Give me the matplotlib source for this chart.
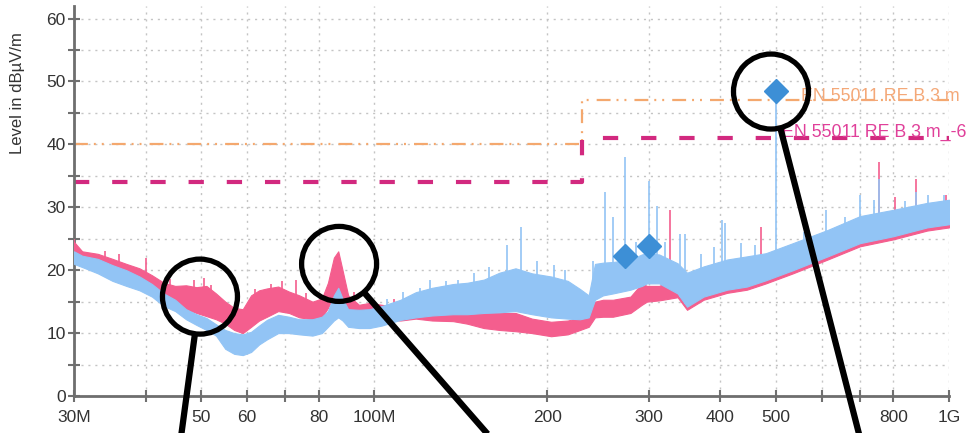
import numpy as np
import matplotlib as mpl
mpl.use('Agg')
import matplotlib.pyplot as plt
from matplotlib.patches import Circle

plt.rcParams['font.family'] = ['Liberation Sans', 'DejaVu Sans']
plt.rcParams['lines.scale_dashes'] = False

# envelope readings of the two noisy traces (MHz, dBuV/m)
freq = [30, 31, 33, 35, 37, 39, 41, 43, 45, 47, 49, 51, 53, 55, 57, 59, 61, 63, 65, 68,
        71, 74, 78, 81, 83, 85, 86.5, 88, 90, 94, 98, 103, 111, 118, 126, 137, 145, 155,
        165, 176, 188, 203, 217, 228, 236, 242, 250, 260, 279, 292, 298, 313, 337, 350,
        374, 411, 445, 480, 535, 615, 700, 800, 916, 1000]
red_hi = [24.5, 23.0, 22.6, 21.8, 21.0, 20.3, 19.2, 18.0, 17.5, 17.6, 17.3, 17.5, 16.3, 15.0,
          14.0, 13.8, 16.0, 16.8, 17.1, 17.4, 16.6, 16.0, 15.0, 15.5, 18.0, 22.0, 23.0, 20.0,
          16.0, 14.5, 14.8, 14.5, 14.0, 14.3, 14.5, 14.8, 14.2, 13.2, 13.2, 13.2, 12.3, 11.8,
          12.0, 12.5, 13.0, 15.0, 15.3, 15.3, 15.8, 17.9, 17.5, 17.5, 19.0, 18.0, 19.0, 20.0,
          20.5, 21.0, 22.5, 24.5, 26.8, 28.0, 29.0, 29.5]
red_lo = [21.5, 21.0, 20.5, 19.5, 18.5, 17.5, 16.5, 15.0, 14.0, 13.8, 13.2, 12.7, 12.2, 11.5,
          10.5, 10.0, 11.0, 12.0, 12.6, 13.5, 13.2, 12.5, 12.2, 12.5, 14.0, 16.0, 17.0, 15.0,
          12.8, 12.3, 12.2, 12.2, 12.0, 12.3, 12.0, 11.9, 11.5, 10.8, 10.5, 10.3, 10.0, 9.5,
          9.8, 10.5, 11.0, 12.5, 12.6, 12.6, 13.2, 14.5, 15.0, 15.2, 15.7, 13.7, 15.3, 16.4,
          16.9, 17.9, 19.5, 21.7, 23.8, 24.9, 26.3, 26.8]
blue_hi = [23.0, 22.3, 21.8, 20.8, 20.0, 19.0, 17.8, 16.3, 15.3, 13.8, 13.0, 12.4, 11.4, 10.5,
           10.0, 9.8, 10.2, 11.2, 12.1, 12.9, 12.6, 12.2, 12.2, 12.6, 13.5, 16.0, 17.2, 15.5,
           13.8, 13.7, 13.8, 14.3, 15.3, 16.5, 17.2, 17.8, 18.0, 18.5, 19.6, 20.3, 19.5, 19.0,
           18.3, 17.0, 16.0, 21.0, 21.2, 21.3, 21.7, 22.5, 22.7, 22.5, 21.1, 19.6, 20.6, 21.7,
           22.2, 22.7, 24.3, 26.4, 28.6, 29.6, 30.7, 31.2]
blue_lo = [21.0, 20.5, 19.5, 18.3, 17.5, 16.8, 15.8, 14.3, 13.5, 12.2, 11.3, 10.5, 9.6, 7.5,
           6.7, 6.5, 7.0, 8.2, 9.0, 10.0, 10.0, 9.8, 9.6, 10.0, 11.0, 12.0, 12.5, 12.0,
           11.0, 10.8, 10.8, 11.2, 12.1, 12.5, 12.8, 13.0, 13.0, 13.2, 13.3, 13.5, 13.0, 12.5,
           12.3, 12.2, 12.5, 15.3, 16.0, 16.3, 16.9, 17.5, 17.9, 17.9, 16.3, 14.2, 15.8, 16.9,
           17.4, 18.4, 20.0, 22.2, 24.3, 25.4, 26.8, 27.3]

# narrow peaks sticking out of the traces
red_spike_f = [30, 34, 36, 40, 44, 48.5, 50.5, 52, 62, 66, 69, 73, 76, 92, 108, 113, 122,
               131, 140, 160, 327, 470, 755, 805, 876, 990]
red_spike_lvl = [25.0, 23.0, 22.5, 22.0, 18.6, 18.5, 18.8, 17.6, 17.0, 17.8, 18.3, 18.5,
                 16.4, 16.5, 15.5, 15.6, 15.2, 16.0, 15.4, 14.2, 29.5, 26.8, 37.2, 31.6,
                 34.5, 31.9]
blue_spike_f = [105, 112, 120, 125, 133, 140, 149, 158, 170, 180, 192, 205, 215, 240, 252,
                260, 273, 285, 300, 310, 320, 340, 347, 370, 390, 403, 408, 435, 460, 500,
                560, 610, 660, 700, 740, 755, 840, 876, 920, 980]
blue_spike_lvl = [15.5, 16.6, 17.2, 18.5, 18.3, 18.5, 19.6, 20.5, 24.0, 26.9, 21.5, 20.8,
                  20.0, 21.5, 32.4, 28.5, 38.0, 24.5, 34.2, 30.2, 24.5, 25.8, 25.8, 22.5,
                  23.7, 28.0, 27.5, 24.3, 24.0, 48.5, 26.0, 29.5, 28.5, 32.0, 31.2, 34.5,
                  31.0, 32.5, 32.0, 32.0]

# final measurement points
peak_f = [273, 300, 500]
peak_lvl = [22.2, 23.9, 48.5]

# EN 55011 class B limit and the -6 dB line
limit_f = [30, 230, 230, 1000]
limit_b = [40, 40, 47, 47]
limit_b6 = [34, 34, 41, 41]

xticks = [30, 40, 50, 60, 70, 80, 100, 200, 300, 400, 500, 600, 700, 800, 1000]
xticklabels = ['30M', '', '50', '60', '', '80', '100M', '200', '300', '400', '500', '', '', '800', '1G']

# call-out circles (data centre) and where their pointer lines leave the picture (px offsets)
callout_f = [49.7, 86.8, 490]
callout_lvl = [15.8, 21.0, 48.4]
callout_end = [(-20, 148), (158, 181), (91, 354)]

W, H = 966, 433
fig = plt.figure(figsize=(W / 100, H / 100), dpi=100)
ax = fig.add_axes([74 / W, 37 / H, 875 / W, 390 / H])

pink = '#F45E8E'
blue = '#92C4F5'
ax.fill_between(freq, red_lo, red_hi, color=pink, lw=0.8, zorder=3)
base = np.interp(np.log(red_spike_f), np.log(freq), red_lo)
ax.vlines(red_spike_f, base, red_spike_lvl, color=pink, lw=1.2, zorder=3)
ax.fill_between(freq, blue_lo, blue_hi, color=blue, lw=0.8, zorder=4)
base = np.interp(np.log(blue_spike_f), np.log(freq), blue_lo)
ax.vlines(blue_spike_f, base, blue_spike_lvl, color=blue, lw=1.2, zorder=4)
ax.plot(peak_f, peak_lvl, 'D', ms=12, color='#3D8FD6', zorder=5)

ax.plot(limit_f, limit_b, color='#F4A86E', lw=1.6,
        dashes=(10, 4.3, 1.4, 4.3, 1.4, 5.8), zorder=2)
ax.plot(limit_f, limit_b6, color='#D2297F', lw=3.0, dashes=(11, 16.5), zorder=2)
ax.text(553, 46.9, 'EN 55011 RE B 3 m', color='#F4A878', fontsize=12.8,
        va='baseline', clip_on=False, zorder=2)
ax.text(512, 41.2, 'EN 55011 RE B 3 m_-6', color='#E0409A', fontsize=12.8,
        va='baseline', clip_on=False, zorder=2)

ax.set_xscale('log')
ax.set_xlim(30, 1000)
ax.set_ylim(0, 62)
ax.set_xticks(xticks)
ax.set_xticklabels(xticklabels)
ax.xaxis.set_minor_locator(mpl.ticker.NullLocator())
ax.set_yticks(range(0, 61, 10))
ax.set_yticks(range(5, 60, 10), minor=True)
ax.tick_params(which='both', direction='inout', length=8, width=1.5, color='#707070',
               labelsize=12.5, labelcolor='#333333')
ax.tick_params(axis='x', pad=6)
ax.tick_params(axis='y', pad=2)
ax.grid(True, which='both', color='#C4C4C4', lw=1.0, linestyle=(0, (1.5, 3.5)))
for s in ['top', 'right']:
    ax.spines[s].set_visible(False)
for s in ['left', 'bottom']:
    ax.spines[s].set_color('#6E6E6E')
    ax.spines[s].set_linewidth(2)
ax.set_axisbelow(True)

fig.text(18 / W, 1 - 93 / H, 'Level in dBµV/m', rotation=90, ha='center', va='center',
         fontsize=12, color='#333333')

# black call-outs drawn in pixel space on top
ov = fig.add_axes([0, 0, 1, 1], zorder=10)
ov.set_xlim(0, W)
ov.set_ylim(0, H)
ov.axis('off')
r = 37.5
for f, lvl, (dx, dy) in zip(callout_f, callout_lvl, callout_end):
    cx, cy = ax.transData.transform((f, lvl))
    ov.add_patch(Circle((cx, cy), r, fill=False, ec='black', lw=3.8))
    ex, ey = cx + dx, cy - dy
    d = np.hypot(dx, dy)
    sx, sy = cx + r * dx / d, cy - r * dy / d
    ov.plot([sx, ex], [sy, ey], color='black', lw=4.5, solid_capstyle='butt', clip_on=False)

fig.savefig('out.png', dpi=100)
